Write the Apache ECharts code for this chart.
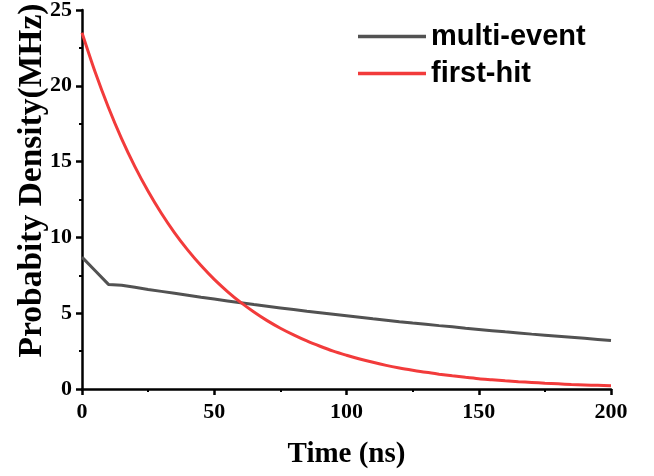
<!DOCTYPE html>
<html>
<head>
<meta charset="utf-8">
<script src="https://cdn.jsdelivr.net/npm/echarts@6/dist/echarts.min.js"></script>
<style>
  html, body { margin: 0; padding: 0; background: #fff; }
  #chart { width: 654px; height: 476px; }
</style>
</head>
<body>
<div id="chart"></div>
<script>
// time axis (ns)
const times = [0, 5, 10, 15, 20, 25, 30, 35, 40, 45, 50, 55, 60, 65, 70, 75, 80, 85, 90, 95, 100,
  105, 110, 115, 120, 125, 130, 135, 140, 145, 150, 155, 160, 165, 170, 175, 180, 185, 190, 195, 200];

// probability density (MHz)
const multiEvent = [8.7, 7.8, 6.9, 6.85, 6.71, 6.57, 6.44, 6.31, 6.18, 6.05, 5.93, 5.81, 5.69, 5.57, 5.46, 5.35, 5.24, 5.13, 5.03, 4.93, 4.83,
  4.73, 4.63, 4.54, 4.44, 4.35, 4.27, 4.18, 4.10, 4.01, 3.93, 3.85, 3.77, 3.70, 3.62, 3.55, 3.48, 3.41, 3.34, 3.27, 3.20];
const firstHit = [23.5, 20.89, 18.57, 16.50, 14.67, 13.04, 11.59, 10.30, 9.16, 8.14, 7.23, 6.43, 5.71, 5.08, 4.51, 4.01, 3.57, 3.17, 2.82, 2.50, 2.23,
  1.98, 1.76, 1.56, 1.39, 1.24, 1.10, 0.98, 0.87, 0.77, 0.68, 0.61, 0.54, 0.48, 0.43, 0.38, 0.34, 0.30, 0.27, 0.24, 0.21];

const seriesNames = ['multi-event', 'first-hit'];
const seriesColors = ['#525252', '#f23b3b'];

const pair = (ys) => times.map((t, i) => [t, ys[i]]);

const chart = echarts.init(document.getElementById('chart'));

const axisFont = { fontFamily: 'Liberation Serif', fontWeight: 'bold', color: '#000' };

chart.setOption({
  animation: false,
  grid: { left: 82, right: 43, top: 10, bottom: 87, outerBoundsMode: 'none' },
  legend: {
    orient: 'vertical',
    left: 353,
    top: 17,
    icon: 'rect',
    itemWidth: 68,
    itemHeight: 3.5,
    itemGap: 8,
    textStyle: { fontFamily: 'Liberation Sans', fontWeight: 'bold', fontSize: 29, color: '#000' },
    data: seriesNames
  },
  xAxis: {
    type: 'value',
    min: 0,
    max: 200,
    interval: 50,
    name: 'Time (ns)',
    nameLocation: 'middle',
    nameGap: 51,
    nameMoveOverlap: false,
    nameTextStyle: Object.assign({ fontSize: 29 }, axisFont),
    axisLine: { lineStyle: { color: '#000', width: 2.5 } },
    axisTick: { show: true, length: 6, lineStyle: { width: 2.5, color: '#000' } },
    minorTick: { show: true, splitNumber: 2, length: 3, lineStyle: { width: 2, color: '#000' } },
    axisLabel: Object.assign({ fontSize: 22, margin: 12 }, axisFont),
    splitLine: { show: false }
  },
  yAxis: {
    type: 'value',
    min: 0,
    max: 25,
    interval: 5,
    name: 'Probabity Density(MHz)',
    nameLocation: 'middle',
    nameGap: 33,
    nameMoveOverlap: false,
    nameTextStyle: Object.assign({ fontSize: 33.5, padding: [0, 0, 0, 38] }, axisFont),
    axisLine: { show: true, lineStyle: { color: '#000', width: 2.5 } },
    axisTick: { show: true, length: 6, lineStyle: { width: 2.5, color: '#000' } },
    minorTick: { show: true, splitNumber: 2, length: 3, lineStyle: { width: 2, color: '#000' } },
    axisLabel: Object.assign({ fontSize: 22, margin: 10 }, axisFont),
    splitLine: { show: false }
  },
  series: [
    {
      name: seriesNames[0],
      type: 'line',
      data: pair(multiEvent),
      symbol: 'none',
      color: seriesColors[0],
      lineStyle: { width: 3, color: seriesColors[0] }
    },
    {
      name: seriesNames[1],
      type: 'line',
      data: pair(firstHit),
      symbol: 'none',
      smooth: 0.3,
      color: seriesColors[1],
      lineStyle: { width: 3, color: seriesColors[1] }
    }
  ]
});
</script>
</body>
</html>
